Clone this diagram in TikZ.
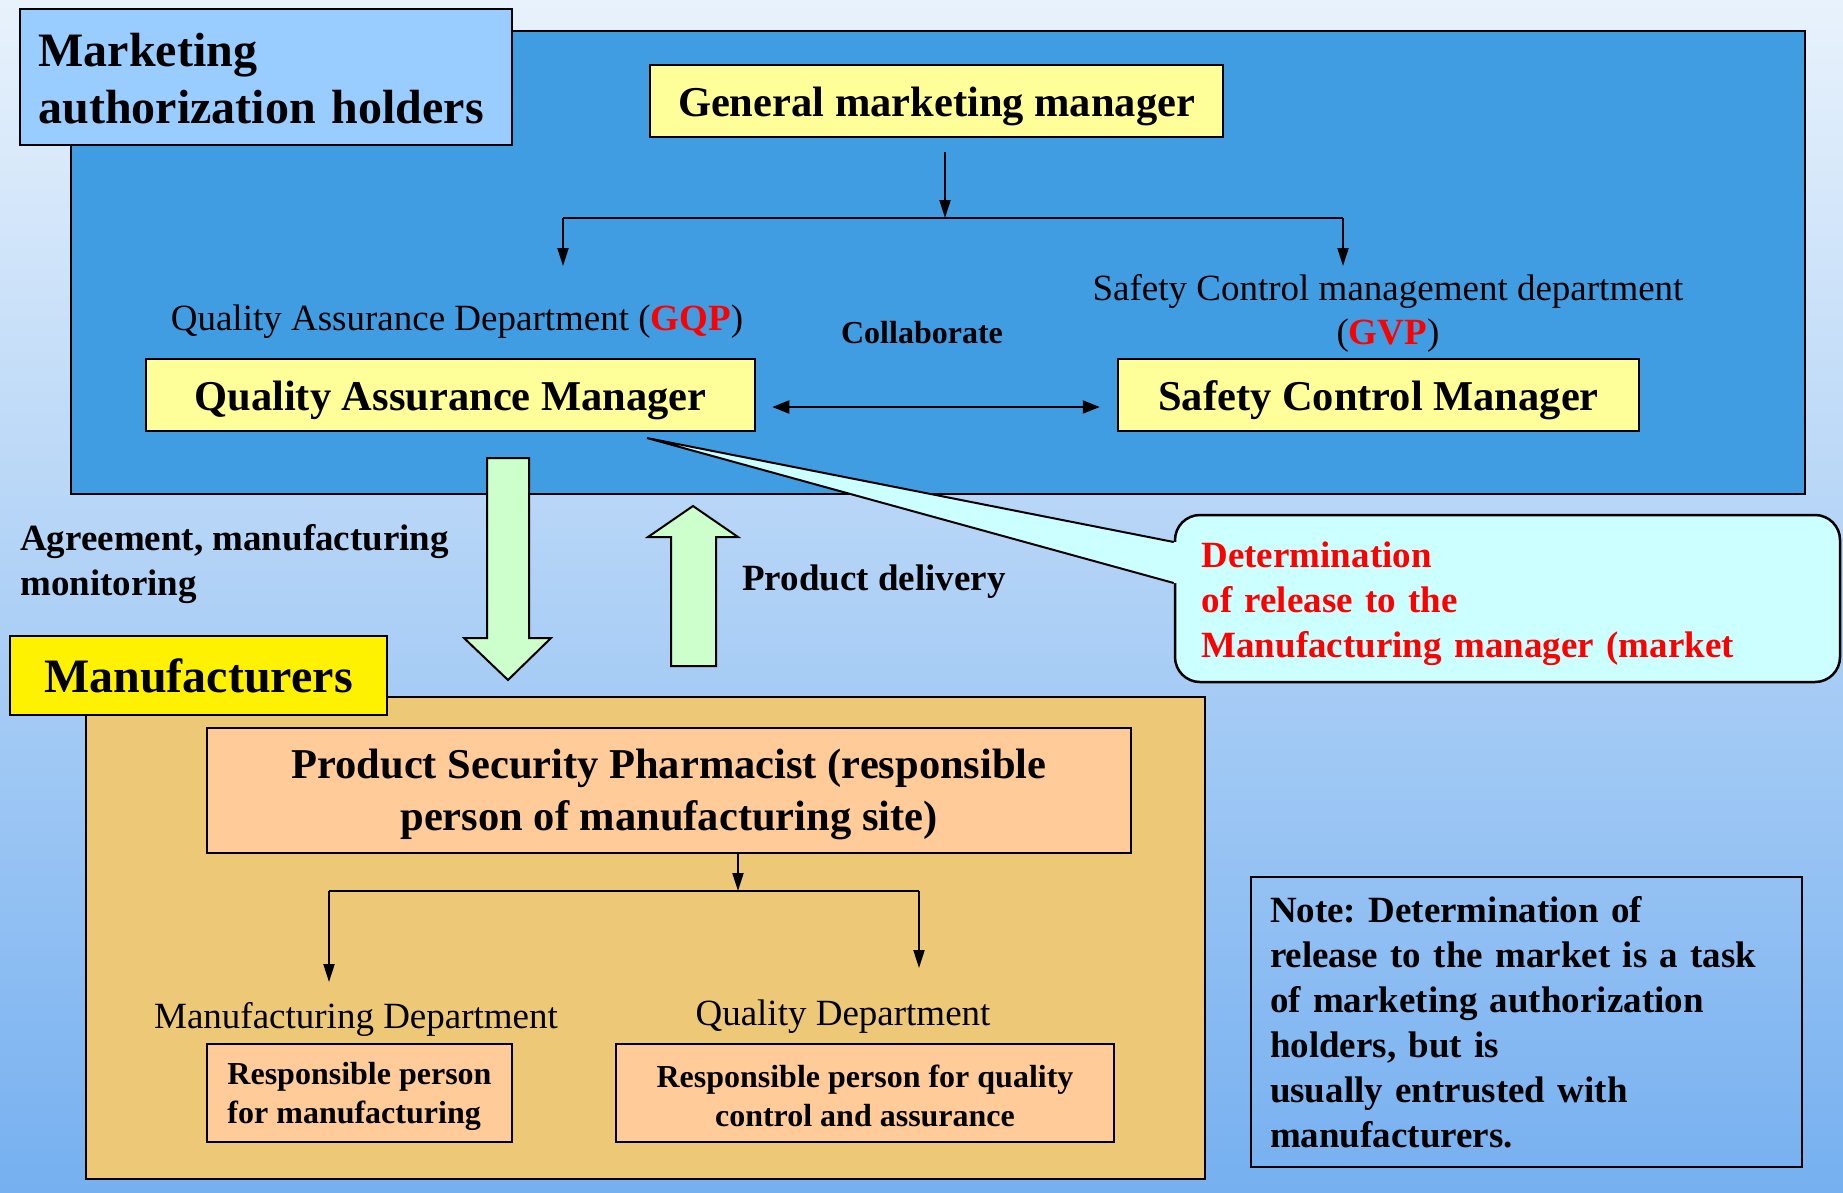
\documentclass[tikz,border=0pt]{standalone}
\usepackage{fontspec}
\setmainfont{Liberation Serif}
\usetikzlibrary{arrows.meta}
\frenchspacing

\definecolor{bgtop}{RGB}{232,242,252}
\definecolor{bgbottom}{RGB}{118,176,240}
\definecolor{mahblue}{RGB}{65,157,226}
\definecolor{headblue}{RGB}{153,204,255}
\definecolor{paleyellow}{RGB}{255,255,153}
\definecolor{mfgorange}{RGB}{237,201,119}
\definecolor{peach}{RGB}{255,204,153}
\definecolor{palegreen}{RGB}{204,255,204}
\definecolor{palecyan}{RGB}{204,255,255}

\newcommand{\mahtitlefont}{\bfseries\fontsize{48}{57}\selectfont}
\newcommand{\mahheadfont}{\bfseries\fontsize{42.5}{52}\selectfont}
\newcommand{\mahdeptfont}{\fontsize{37}{44}\selectfont}
\newcommand{\mahtextfont}{\bfseries\fontsize{37}{45}\selectfont}
\newcommand{\mahsmallfont}{\bfseries\fontsize{32}{39}\selectfont}

\begin{document}
\begin{tikzpicture}
      [x = 1pt, y = -1pt,
      arrow/.style = {-{Triangle[length = 18pt, width = 11pt]}, line width = 2pt},
      twoway/.style = {{Triangle[length = 17pt, width = 13pt]}-{Triangle[length = 17pt, width = 13pt]}, line width = 2pt},
      panel/.style = {draw, line width = 2.5pt},
      box/.style = {
         draw,
         line width = 2.5pt,
         inner sep = 0pt
      },
      manager/.style = {
         box,
         fill = paleyellow,
         minimum height = 72pt,
         text height = 40pt,
         font = \mahheadfont
      },
      person/.style = {
         box,
         fill = peach,
         minimum height = 98pt,
         text height = 68pt,
         font = \mahsmallfont
      },
      deptlabel/.style = {inner sep = 0pt, font = \mahdeptfont},
      plainlabel/.style = {inner sep = 0pt, font = \mahtextfont},
      bigarrow/.style = {
         draw,
         fill = palegreen,
         line width = 2pt
      }]

      \useasboundingbox (0, 0) rectangle (1843, 1192);
      \shade[top color = bgtop, bottom color = bgbottom] (0, 0) rectangle (1843, 1192);

      % marketing authorization holders
      \draw[panel, fill = mahblue] (71, 31) rectangle (1805, 494);
      \node[box, fill = headblue, minimum width = 492pt, minimum height = 136pt,
         text width = 455pt, text height = 36pt, align = left, font = \mahtitlefont]
         (mah) at (266, 77) {Marketing\\ authorization holders};

      \node[manager, minimum width = 573pt] (gmm) at (936.5, 101) {General marketing manager};
      \coordinate (gmmout) at (945, 152);
      \coordinate (split) at (945, 218);
      \coordinate (qaleft) at (563, 218);
      \coordinate (scright) at (1343, 218);
      \draw[arrow] (gmmout) -- (split);
      \draw[line width = 2pt] (qaleft) -- (scright);
      \draw[arrow] (qaleft) -- ++(0, 48);
      \draw[arrow] (scright) -- ++(0, 48);

      \node[deptlabel, anchor = base] (qad) at (457, 330)
         {Quality Assurance Department (\textcolor{red}{\textbf{GQP}})};
      \node[deptlabel, align = center] (scd) at (1388, 313)
         {Safety Control management department\\(\textcolor{red}{\textbf{GVP}})};

      \node[manager, minimum width = 609pt] (qam) at (450.5, 395) {Quality Assurance Manager};
      \node[manager, minimum width = 521pt] (scm) at (1378.5, 395) {Safety Control Manager};
      \node[inner sep = 0pt, font = \mahsmallfont, anchor = base] (collab) at (922, 343) {Collaborate};
      \draw[twoway, shorten <= 16pt, shorten >= 17pt]
         ([yshift = -12pt]qam.east) -- ([yshift = -12pt]scm.west);

      % callout
      \node[box, fill = palecyan, rounded corners = 25pt, minimum width = 665pt,
         minimum height = 167pt, text width = 612pt, text height = 37pt, align = left,
         font = \mahtextfont, text = red] (callout) at (1507.5, 598.5)
         {Determination\\ of release to the\\ Manufacturing manager (market};
      \coordinate (tip) at (647, 438);
      \fill[palecyan] (tip) -- ([yshift = 56.5pt]callout.west)
         -- ([xshift = 3pt, yshift = 56.5pt]callout.west)
         -- ([xshift = 3pt, yshift = 15.5pt]callout.west)
         -- ([yshift = 15.5pt]callout.west) -- cycle;
      \draw[line width = 2pt] ([yshift = 56.5pt]callout.west) -- (tip)
         -- ([yshift = 15.5pt]callout.west);

      % manufacturers
      \draw[panel, fill = mfgorange] (86, 697) rectangle (1205, 1179);
      \node[box, fill = yellow, minimum width = 377pt, minimum height = 79pt,
         font = \mahtitlefont] (mfg) at (198.5, 675.5) {Manufacturers};

      \draw[bigarrow] (487, 458) -- (529, 458) -- (529, 638) -- (551, 638)
         -- (508, 680) -- (464, 638) -- (487, 638) -- cycle;
      \draw[bigarrow] (671, 666) -- (716, 666) -- (716, 537) -- (738, 537)
         -- (693, 506) -- (648, 537) -- (671, 537) -- cycle;
      \node[plainlabel, align = left, anchor = west] (agree) at (20, 564)
         {Agreement, manufacturing\\ monitoring};
      \node[plainlabel, anchor = base west] (delivery) at (742, 590) {Product delivery};

      \node[box, fill = peach, minimum width = 924pt, minimum height = 125pt,
         text height = 90pt, align = center, font = \mahheadfont] (psp) at (669, 790.5)
         {Product Security Pharmacist (responsible\\ person of manufacturing site)};
      \coordinate (pspsplit) at (738, 891);
      \coordinate (mdleft) at (329, 891);
      \coordinate (qdright) at (919, 891);
      \draw[arrow] (psp.south -| pspsplit) -- (pspsplit);
      \draw[line width = 2pt] (mdleft) -- (qdright);
      \draw[arrow] (mdleft) -- ++(0, 91);
      \draw[arrow] (qdright) -- ++(0, 77);

      \node[deptlabel, anchor = base] (mdept) at (356, 1028) {Manufacturing Department};
      \node[deptlabel, anchor = base] (qdept) at (843, 1025) {Quality Department};
      \node[person, minimum width = 305pt, align = left] (rpm) at (359.5, 1093)
         {Responsible person\\ for manufacturing};
      \node[person, minimum width = 498pt, align = center] (rpq) at (865, 1093)
         {Responsible person for quality\\ control and assurance};

      % note
      \node[draw, line width = 2pt, minimum width = 551pt, minimum height = 290pt,
         text width = 513pt, inner sep = 0pt, align = left, font = \mahtextfont] (note)
         at (1526.5, 1022)
         {Note: Determination of\\ release to the market is a task\\ of marketing authorization\\
          holders, but is\\ usually entrusted with\\ manufacturers.};

   \end{tikzpicture}
\end{document}
